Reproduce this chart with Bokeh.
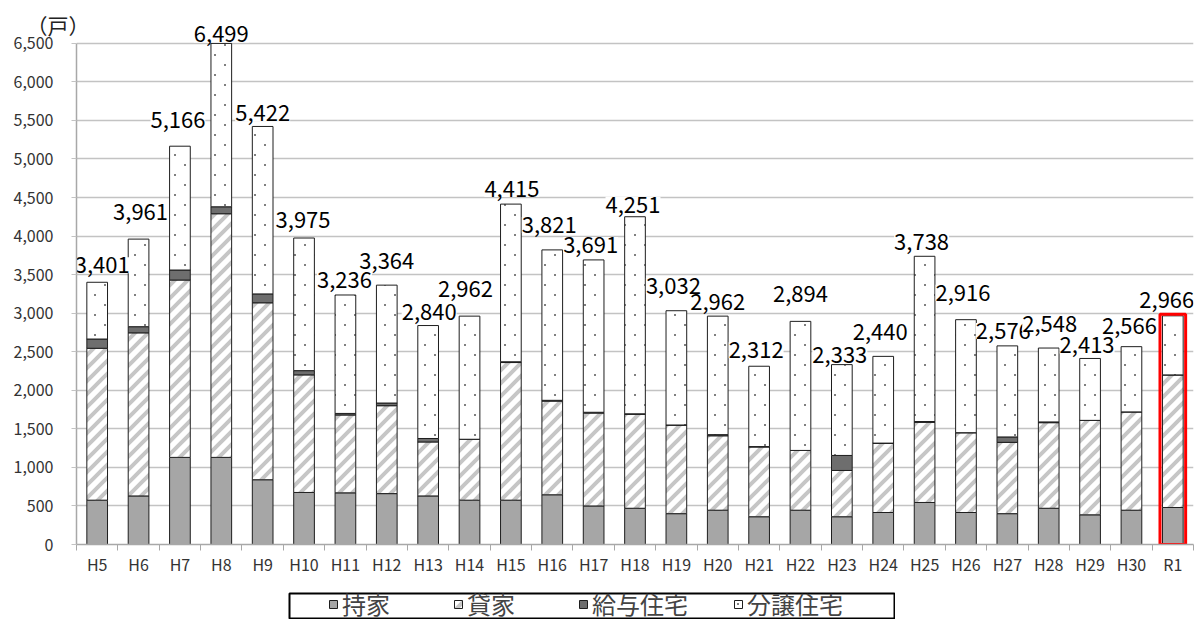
from bokeh.plotting import figure
from bokeh.models import (Range1d, LinearAxis, FixedTicker, NumeralTickFormatter,
                          ColumnDataSource, Legend, LegendItem, Spacer, CanvasTexture)
from bokeh.layouts import column, row
from bokeh.core.properties import value
from bokeh.embed import file_html
from bokeh.resources import INLINE

FONT = "Noto Sans CJK JP"

# 新設住宅着工戸数（利用関係別）
years = ["H5", "H6", "H7", "H8", "H9", "H10", "H11", "H12", "H13", "H14", "H15", "H16",
         "H17", "H18", "H19", "H20", "H21", "H22", "H23", "H24", "H25", "H26", "H27",
         "H28", "H29", "H30", "R1"]
mochiie = [575, 630, 1130, 1130, 840, 675, 670, 660, 630, 575, 575, 645, 500, 470, 400,
           445, 360, 445, 360, 415, 545, 415, 400, 470, 385, 445, 480]
kashiya = [1970, 2115, 2300, 3160, 2295, 1525, 1010, 1140, 700, 790, 1785, 1215, 1205,
           1220, 1150, 965, 905, 775, 600, 900, 1040, 1035, 925, 1110, 1225, 1275, 1720]
kyuyo = [120, 80, 130, 90, 115, 55, 20, 35, 45, 0, 10, 10, 10, 5, 0, 15, 5, 0, 195, 0,
         10, 0, 70, 10, 0, 0, 0]
bunjo = [736, 1136, 1606, 2119, 2172, 1720, 1536, 1529, 1465, 1597, 2045, 1951, 1976,
         2556, 1482, 1537, 1042, 1674, 1178, 1125, 2143, 1466, 1181, 958, 803, 846, 766]
series_names = ["持家", "貸家", "給与住宅", "分譲住宅"]
y_ticks = list(range(0, 6501, 500))
Y_MAX = 6500

totals = [a + b + c + d for a, b, c, d in zip(mochiie, kashiya, kyuyo, bunjo)]
labels = [f"{t:,}" for t in totals]

# one slot per year: bars sit at slot centres, ticks on slot edges
n = len(years)
centres = [i + 0.5 for i in range(n)]
edges = list(range(n + 1))

# hand placement of the total labels (pixels above the bar / sideways nudge)
label_lift_px = [9, 19, 18, 1, 5, 10, 7, 16, 6, 19, 7, 17, 7, 4, 17, 6, 8, 19, 2, 16,
                 6, 19, 7, 16, 5, 13, 8]
label_nudge_px = [5, 2, -2, 0, 0, -1, -1, 0, 1, -4, 1, -3, -3, -2, -3, 0, -3, 0, -2, -3,
                  -3, -3, -4, 1, -3, -2, -6]
BASELINE_FIX = 8

# fill textures with fixed tile sizes: broad grey 45° stripes, sparse staggered dots
stripes = CanvasTexture(code="""
const t = 13;
ctx.canvas.width = t; ctx.canvas.height = t;
ctx.clearRect(0, 0, t, t);
ctx.strokeStyle = "#c6c6c6";
ctx.lineWidth = 4;
ctx.beginPath();
ctx.moveTo(-t, 2*t); ctx.lineTo(2*t, -t);
ctx.moveTo(-t, t); ctx.lineTo(t, -t);
ctx.moveTo(0, 2*t); ctx.lineTo(2*t, 0);
ctx.stroke();
""")
dots = CanvasTexture(code="""
const t = 20;
ctx.canvas.width = t; ctx.canvas.height = t;
ctx.clearRect(0, 0, t, t);
ctx.fillStyle = "#808080";
ctx.fillRect(4, 4, 2, 2);
ctx.fillRect(14, 14, 2, 2);
""")
textures = {"stripes": stripes, "dots": dots}

src = ColumnDataSource(dict(
    x=centres, year=years, mochiie=mochiie, kashiya=kashiya, kyuyo=kyuyo, bunjo=bunjo,
    total=totals, label=labels,
    dy=[-(v + BASELINE_FIX) for v in label_lift_px], dx=label_nudge_px,
    rent_tex=["stripes"] * n, sale_tex=["dots"] * n,
))

GRID = "#c3c3c3"
AXIS = "#a8a8a8"

# a little head room above 6,500 so the tallest label is not clipped
p = figure(width=1197, height=592, x_range=Range1d(0, n), y_range=Range1d(0, 6900),
           x_axis_location=None, output_backend="svg", toolbar_location=None,
           min_border_left=76, min_border_right=4, min_border_top=12, min_border_bottom=48,
           outline_line_color=None, background_fill_color="white", title="（戸）")

# unit caption, pulled down beside the top of the value axis
p.title.text_font = FONT
p.title.text_font_size = "21px"
p.title.text_font_style = "normal"
p.title.text_color = "#222222"
p.title.align = "left"
p.title.offset = -50
p.title.standoff = -54

p.xgrid.grid_line_color = None
p.ygrid.grid_line_color = GRID
p.ygrid.grid_line_width = 1.5

yax = p.yaxis[0]
yax.ticker = FixedTicker(ticks=y_ticks)
yax.bounds = (0, Y_MAX)
yax.formatter = NumeralTickFormatter(format="0,0")
yax.axis_line_color = AXIS
yax.axis_line_width = 1.5
yax.major_tick_line_color = GRID
yax.major_tick_in = 0
yax.major_tick_out = 5
yax.minor_tick_line_color = None
yax.major_label_standoff = 18
yax.major_label_text_font = FONT
yax.major_label_text_font_size = "16px"
yax.major_label_text_color = "#333333"

# axis line with tick marks on the slot edges
edge_axis = LinearAxis(ticker=FixedTicker(ticks=edges),
                       major_tick_in=0, major_tick_out=6, minor_tick_line_color=None,
                       axis_line_color=AXIS, axis_line_width=1.5, major_tick_line_color=AXIS,
                       major_label_text_font_size="1px", major_label_text_color=None,
                       major_label_standoff=0)
p.add_layout(edge_axis, "below")

# year names under the slot centres
name_axis = LinearAxis(ticker=FixedTicker(ticks=centres),
                       major_label_overrides={c: y for c, y in zip(centres, years)},
                       major_tick_line_color=None, minor_tick_line_color=None,
                       axis_line_color=None,
                       major_label_text_font=FONT, major_label_text_font_size="16px",
                       major_label_text_color="#333333", major_label_standoff=-5)
p.add_layout(name_axis, "below")

fills = ["#a6a6a6", "white", "#6e6e6e", "white"]
hatches = [None, "rent_tex", None, "sale_tex"]

p.vbar_stack(["mochiie", "kashiya", "kyuyo", "bunjo"], x="x", width=0.5, source=src,
             fill_color=fills, line_color="#1e1e1e", line_width=1,
             hatch_pattern=hatches, hatch_extra=textures)

p.text(x="x", y="total", text="label", source=src, text_font=value(FONT),
       text_font_size="22px", text_align="center", text_baseline="alphabetic",
       text_color="black", x_offset="dx", y_offset="dy",
       background_fill_color="white", padding=0)

# red frame around the latest year
p.vbar(x=[centres[-1]], top=[totals[-1] + 20], bottom=[-20], width=0.62,
       fill_color=None, line_color="#ff0000", line_width=3)

# legend strip
leg_fig = figure(width=607, height=27, x_axis_location=None, y_axis_location=None,
                 x_range=Range1d(10, 11), y_range=Range1d(10, 11),
                 toolbar_location=None, output_backend="svg",
                 min_border_left=1, min_border_right=1, min_border_top=1, min_border_bottom=0,
                 outline_line_color="black", outline_line_width=2)
leg_fig.grid.visible = False
swatch_tex = [None, "stripes", None, "dots"]
items = []
for name, fc, tex in zip(series_names, fills, swatch_tex):
    sw_src = ColumnDataSource(dict(x=[0], top=[0], bottom=[0], tex=[tex or " "]))
    r = leg_fig.vbar(x="x", top="top", bottom="bottom", source=sw_src, width=0.5,
                     fill_color=fc, line_color="#1e1e1e",
                     hatch_pattern="tex" if tex else None, hatch_extra=textures)
    items.append(LegendItem(label=name, renderers=[r]))
legend = Legend(items=items, orientation="horizontal", location=(39, -2), padding=3,
                spacing=45, glyph_width=10, glyph_height=10, label_standoff=4,
                label_width=66, label_text_font=FONT, label_text_font_size="24px",
                label_height=24, border_line_color=None, background_fill_alpha=0, margin=0)
leg_fig.add_layout(legend)

layout = column(p, row(Spacer(width=288, height=27), leg_fig))

open("out.html", "w").write(file_html(layout, INLINE))
